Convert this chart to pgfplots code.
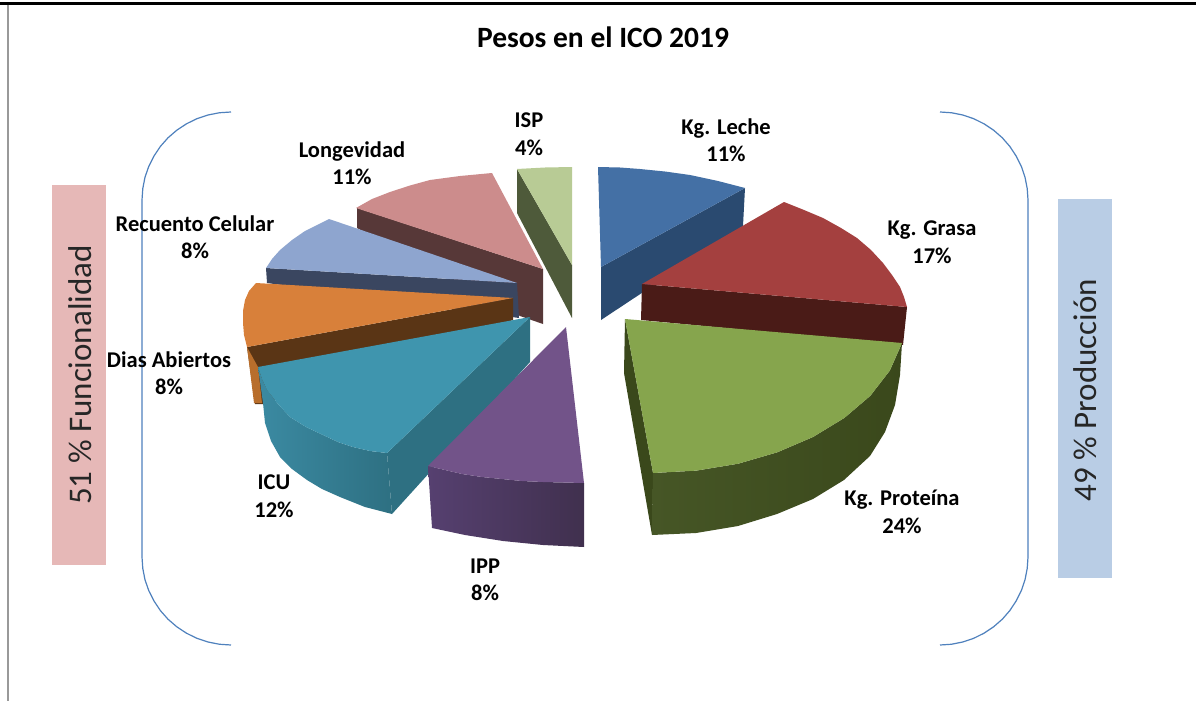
\documentclass[border=0pt]{standalone}
\usepackage{pgfplots}
\pgfplotsset{compat=1.18}
\usepackage{fontspec}
\setmainfont{Carlito}
\definecolor{cBlue}{HTML}{4470A5}\definecolor{cBlueS}{HTML}{2A4A70}
\definecolor{cRed}{HTML}{A4403F}\definecolor{cRedS}{HTML}{4A1B17}
\definecolor{cGreen}{HTML}{86A54D}\definecolor{cGreenS}{HTML}{3A481B}\definecolor{cGreenL}{HTML}{465626}
\definecolor{cPurple}{HTML}{725389}\definecolor{cPurpleA}{HTML}{564070}\definecolor{cPurpleB}{HTML}{40304E}
\definecolor{cTeal}{HTML}{3F95AE}\definecolor{cTealS}{HTML}{2E7082}\definecolor{cTealA}{HTML}{3B8AA2}
\definecolor{cOrange}{HTML}{D8803A}\definecolor{cOrangeS}{HTML}{5A3515}\definecolor{cOrangeE}{HTML}{B86E2C}
\definecolor{cPeri}{HTML}{8EA5CF}\definecolor{cPeriS}{HTML}{3A4660}
\definecolor{cPink}{HTML}{CC8C8C}\definecolor{cPinkS}{HTML}{573838}
\definecolor{cLime}{HTML}{B8CB95}\definecolor{cLimeS}{HTML}{4E5A3A}
\definecolor{cBracket}{HTML}{4F81BD}
\definecolor{cBoxP}{HTML}{E6B8B7}\definecolor{cBoxB}{HTML}{B9CDE5}
\tikzset{lab/.style={font=\fontsize{22.5}{27.5}\selectfont\bfseries,align=center,text=black,inner sep=0pt},
  sidet/.style={font=\fontsize{33}{38}\selectfont,text=black!85,rotate=90,inner sep=0pt}}
\begin{document}
\begin{tikzpicture}
\begin{axis}[at={(0,0)},anchor=south west,scale only axis,width=1196pt,height=701pt,
  xmin=0,xmax=1196,ymin=0,ymax=701,y dir=reverse,hide axis,clip=true]
% page and frame
\addplot[fill=white,draw=none] coordinates {(0,0)(1196,0)(1196,701)(0,701)} -- cycle;
\addplot[black,line width=3pt] coordinates {(0,4)(1196,4)};
\addplot[black!40,line width=1.3pt] coordinates {(8,5)(8,701)};
% side boxes
\addplot[fill=cBoxP,draw=none] coordinates {(52,185)(106,185)(106,565)(52,565)} -- cycle;
\addplot[fill=cBoxB,draw=none] coordinates {(1058,199)(1112,199)(1112,578)(1058,578)} -- cycle;
% brackets
\addplot[cBracket,line width=1.2pt,line join=round] coordinates {(231,112)(219.4,112.75)(208,115)(196.9,118.7)(186.5,123.8)(176.8,130.2)(168,137.8)(160.4,146.4)(154,156)(148.8,166.3)(145,177.2)(142.8,188.5)(142,200)(142,557)(142.8,568.5)(145,579.8)(148.8,590.7)(154,601)(160.4,610.6)(168,619.2)(176.8,626.8)(186.5,633.2)(196.9,638.3)(208,642)(219.4,644.25)(231,645)};
\addplot[cBracket,line width=1.2pt,line join=round] coordinates {(940,112)(951.5,112.75)(962.7,115)(973.7,118.7)(984,123.8)(993.6,130.2)(1002.3,137.8)(1009.8,146.4)(1016.1,156)(1021.3,166.3)(1025,177.2)(1027.2,188.5)(1028,200)(1028,557)(1027.2,568.5)(1025,579.8)(1021.3,590.7)(1016.1,601)(1009.8,610.6)(1002.3,619.2)(993.6,626.8)(984,633.2)(973.7,638.3)(962.7,642)(951.5,644.25)(940,645)};
% ISP
\addplot[fill=cLimeS,draw=none] coordinates {(517,169)(572,265)(572,318)(517,213)} -- cycle;
\addplot[fill=cLime,draw=none] coordinates {(517,169)(545,167.5)(572,167)(572,265)} -- cycle;
% Kg. Leche
\addplot[fill=cBlueS,draw=none] coordinates {(745,188)(601,267)(601,320)(743,226)} -- cycle;
\addplot[fill=cBlue,draw=none] coordinates {(598,167)(620,167.5)(640,169)(665,171.5)(690,175)(718,181)(745,188)(601,267)} -- cycle;
% Longevidad
\addplot[fill=cPinkS,draw=none] coordinates {(357,208)(543,269)(543,324)(520,316)(357,228)} -- cycle;
\addplot[fill=cPink,draw=none] coordinates {(356,208)(372,199)(390,192)(410,185.5)(430,180)(460,176)(492,173)(543,269)} -- cycle;
% Recuento Celular
\addplot[fill=cPeriS,draw=none] coordinates {(266,268)(517,283)(519,318)(267,283)} -- cycle;
\addplot[fill=cPeri,draw=none] coordinates {(266,268)(272,259)(280,250)(292,240)(305,231)(329,219)(517,283)} -- cycle;
% Dias Abiertos
\addplot[fill=cOrangeS,draw=none] coordinates {(247,347)(513,298)(513,320)(263,404)(255,404)} -- cycle;
\addplot[fill=cOrangeE,draw=none] coordinates {(247,347)(254,403)(262,403)(258,367)} -- cycle;
\addplot[fill=cOrange,draw=none] coordinates {(247,347)(244,335)(243,323)(243,311)(245,300)(249,291)(256,283)(513,298)} -- cycle;
% ICU
\addplot[fill=cTealS,draw=none] coordinates {(530,317)(530,362)(392,514)(387,453)} -- cycle;
\addplot[left color=cTealA,right color=cTealS,draw=none] coordinates {(258,367)(262,379)(267,390)(278,404)(290,417)(306,427)(323,435)(338,442)(353,447)(370,451)(387,453)(392,514)(365,507)(340,497)(322,489)(307,480)(292,469)(280,457)(271,441)(265,423)(263,403)} -- cycle;
\addplot[fill=cTeal,draw=none] coordinates {(258,367)(262,379)(267,390)(278,404)(290,417)(306,427)(323,435)(338,442)(353,447)(370,451)(387,453)(530,317)} -- cycle;
% IPP
\addplot[left color=cPurpleA,right color=cPurpleB,draw=none] coordinates {(428,466)(445,470)(462,474)(482,477)(502,479)(522,481)(543,482)(584,483)(584,547)(543,545)(503,541)(465,535)(432,528)} -- cycle;
\addplot[fill=cPurple,draw=none] coordinates {(566,327)(584,483)(543,482)(522,481)(502,479)(482,477)(462,474)(445,470)(428,466)} -- cycle;
% Kg. Grasa
\addplot[fill=cRedS,draw=none] coordinates {(642,284)(907,307)(903,345)(641,320)} -- cycle;
\addplot[fill=cRed,draw=none] coordinates {(784,202)(804,210)(823,218)(841,228)(857,238)(871,250)(883,263)(892,275)(900,287)(904,297)(907,307)(642,284)} -- cycle;
% Kg. Proteina
\addplot[fill=cGreenS,draw=none] coordinates {(625,319)(653,473)(652,535)(624,373)} -- cycle;
\addplot[left color=cGreenL,middle color=cGreenS,right color=cGreenS,draw=none] coordinates {(653,473)(696.4,470.6)(738.2,463.7)(777.3,452.3)(813,437)(844.4,417.9)(870.3,395.8)(889.8,370.6)(902,343)(900,375)(895,405)(885,432)(870,456)(844,480)(813,499)(777,514)(738,526)(696,533)(652,535)} -- cycle;
\addplot[fill=cGreen,draw=none] coordinates {(625,319)(902,343)(889.8,370.6)(870.3,395.8)(844.4,417.9)(813,437)(777.3,452.3)(738.2,463.7)(696.4,470.6)(653,473)} -- cycle;
% labels
\node[font=\fontsize{29.5}{34}\selectfont\bfseries,inner sep=0pt] at (axis cs:603,37) {Pesos en el ICO 2019};
\node[lab] at (axis cs:726,140) {Kg. Leche\\11\%};
\node[lab] at (axis cs:932,242) {Kg. Grasa\\17\%};
\node[lab] at (axis cs:902,512) {Kg. Proteína\\24\%};
\node[lab] at (axis cs:485,580) {IPP\\8\%};
\node[lab] at (axis cs:274,496) {ICU\\12\%};
\node[lab] at (axis cs:169,373) {Dias Abiertos\\8\%};
\node[lab] at (axis cs:195,237) {Recuento Celular\\8\%};
\node[lab] at (axis cs:352,163) {Longevidad\\11\%};
\node[lab] at (axis cs:529,134) {ISP\\4\%};
\node[sidet] at (axis cs:80,375) {51 \% Funcionalidad};
\node[sidet] at (axis cs:1085,390) {49 \% Producción};
\end{axis}
\end{tikzpicture}
\end{document}
